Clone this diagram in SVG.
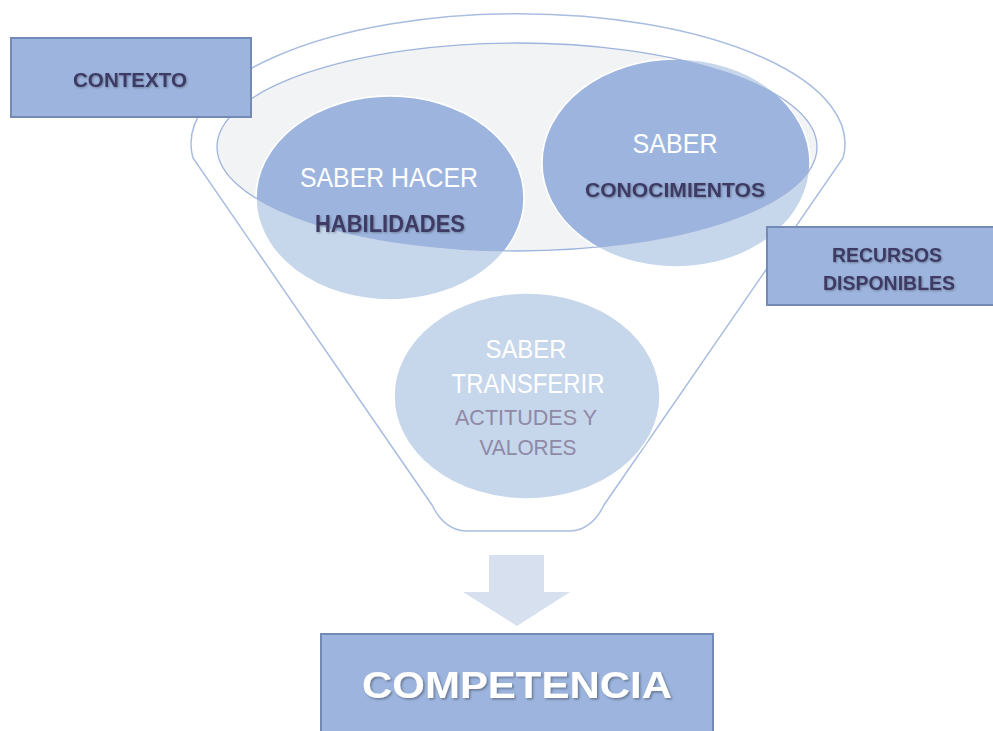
<svg xmlns="http://www.w3.org/2000/svg" width="993" height="731" viewBox="0 0 993 731">
  <style>
    .box { fill: #9db5de; stroke: #7389b6; stroke-width: 2; }
    .funnel { fill: #ffffff; stroke: #a9bde0; stroke-width: 1.5; }
    .top { fill: #f2f3f5; }
    .topline { fill: none; stroke: #9fb4dc; stroke-width: 1.3; }
    .light { fill: #c6d6eb; stroke: #ffffff; stroke-width: 1.5; }
    .dark { fill: #9db5de; stroke: #ffffff; stroke-width: 1.5; }
    .w { fill: #ffffff; font-family: "Liberation Sans", Arial, sans-serif; text-anchor: middle; }
    .d { fill: #3e3a64; font-family: "Liberation Sans", Arial, sans-serif; font-weight: bold; text-anchor: middle; filter: url(#ts); }
    .g { fill: #8f89a6; font-family: "Liberation Sans", Arial, sans-serif; text-anchor: middle; }
  </style>
  <defs>
    <filter id="ts" x="-10%" y="-30%" width="120%" height="160%">
      <feDropShadow dx="1" dy="1" stdDeviation="0.8" flood-color="#000000" flood-opacity="0.3"/>
    </filter>
    <filter id="tsw" x="-10%" y="-30%" width="120%" height="160%">
      <feDropShadow dx="1.5" dy="1.5" stdDeviation="1.2" flood-color="#000000" flood-opacity="0.35"/>
    </filter>
    <clipPath id="topclip">
      <ellipse cx="517" cy="147" rx="300" ry="104"/>
    </clipPath>
  </defs>
  <rect width="993" height="731" fill="#ffffff"/>

  <g id="funnel">
    <path class="funnel" d="M 193,158 A 327 130 0 1 1 843,158 L 604,505 Q 592,530 570,531 L 466,531 Q 444,530 432,505 Z"/>
    <ellipse class="top" cx="517" cy="147" rx="300" ry="104"/>
  </g>

  <g id="saber-hacer">
    <ellipse class="light" cx="390" cy="198" rx="134" ry="102"/>
    <ellipse class="dark" cx="390" cy="198" rx="134" ry="102" clip-path="url(#topclip)"/>
  </g>
  <g id="saber">
    <ellipse class="light" cx="676" cy="163" rx="134" ry="104"/>
    <ellipse class="dark" cx="676" cy="163" rx="134" ry="104" clip-path="url(#topclip)"/>
  </g>
  <ellipse class="topline" cx="517" cy="147" rx="300" ry="104"/>
  <g id="saber-hacer-text">
    <text class="w" x="389" y="187" font-size="28" textLength="178" lengthAdjust="spacingAndGlyphs">SABER HACER</text>
    <text class="d" x="390" y="232" font-size="23" textLength="150" lengthAdjust="spacingAndGlyphs">HABILIDADES</text>
  </g>
  <g id="saber-text">
    <text class="w" x="675" y="153" font-size="28" textLength="85" lengthAdjust="spacingAndGlyphs">SABER</text>
    <text class="d" x="675" y="197" font-size="21" textLength="180" lengthAdjust="spacingAndGlyphs">CONOCIMIENTOS</text>
  </g>

  <g id="saber-transferir">
    <ellipse class="light" cx="527" cy="396" rx="133" ry="103"/>
    <text class="w" x="526" y="358" font-size="26" textLength="81" lengthAdjust="spacingAndGlyphs">SABER</text>
    <text class="w" x="528" y="393" font-size="27" textLength="153" lengthAdjust="spacingAndGlyphs">TRANSFERIR</text>
    <text class="g" x="526" y="425" font-size="22" textLength="142" lengthAdjust="spacingAndGlyphs">ACTITUDES Y</text>
    <text class="g" x="528" y="455" font-size="22" textLength="97" lengthAdjust="spacingAndGlyphs">VALORES</text>
  </g>

  <g id="contexto">
    <rect class="box" x="11" y="38" width="240" height="79"/>
    <text class="d" x="130" y="87" font-size="20" textLength="114" lengthAdjust="spacingAndGlyphs">CONTEXTO</text>
  </g>

  <g id="recursos">
    <rect class="box" x="767" y="227" width="240" height="78"/>
    <text class="d" x="887" y="262" font-size="20" textLength="110" lengthAdjust="spacingAndGlyphs">RECURSOS</text>
    <text class="d" x="889" y="290" font-size="20" textLength="132" lengthAdjust="spacingAndGlyphs">DISPONIBLES</text>
  </g>

  <g id="connectors">
    <polygon points="489,555 544,555 544,592 570,592 517,626 463,592 489,592" fill="#d6e0ef"/>
  </g>

  <g id="competencia">
    <rect class="box" x="321" y="634" width="392" height="110"/>
    <text x="517" y="698" font-size="36" font-weight="bold" fill="#ffffff" font-family="'Liberation Sans', Arial, sans-serif" text-anchor="middle" textLength="310" lengthAdjust="spacingAndGlyphs" filter="url(#tsw)">COMPETENCIA</text>
  </g>
</svg>
